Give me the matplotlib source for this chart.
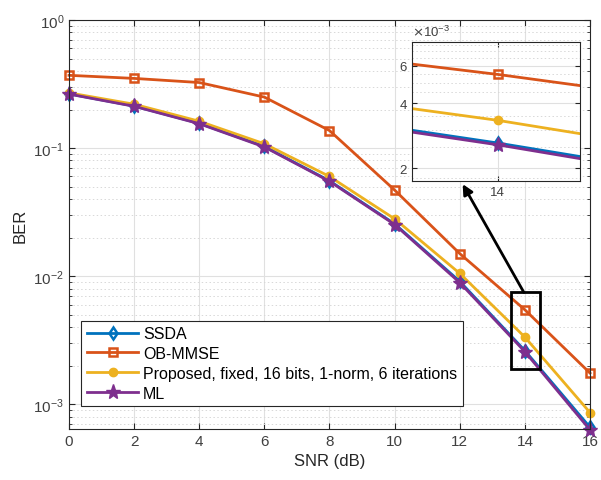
import numpy as np
import matplotlib
matplotlib.use("Agg")
import matplotlib.pyplot as plt
from matplotlib.ticker import LogLocator, NullFormatter, FixedLocator, FixedFormatter

plt.rcParams["font.family"] = ["Liberation Sans", "DejaVu Sans"]

# data
snr = [0, 2, 4, 6, 8, 10, 12, 14, 16]
ssda = [0.265, 0.213, 0.156, 0.103, 0.0555, 0.0256, 0.0091, 0.00262, 0.00066]
ob_mmse = [0.37, 0.35, 0.325, 0.25, 0.137, 0.047, 0.015, 0.00546, 0.00175]
proposed = [0.27, 0.22, 0.162, 0.108, 0.060, 0.028, 0.0105, 0.00334, 0.00086]
ml = [0.264, 0.212, 0.155, 0.102, 0.055, 0.0253, 0.0089, 0.00257, 0.00063]

labels = ["SSDA", "OB-MMSE", "Proposed, fixed, 16 bits, 1-norm, 6 iterations", "ML"]
colors = ["#0072BD", "#D95319", "#EDB120", "#7E2F8E"]

txt = "#262626"


def draw_series(ax):
    ax.plot(snr, ssda, color=colors[0], lw=2, marker="d", ms=6,
            mfc="none", mew=1.8, label=labels[0], clip_on=False)
    ax.plot(snr, ob_mmse, color=colors[1], lw=2, marker="s", ms=5.5,
            mfc="none", mew=1.8, label=labels[1], clip_on=False)
    ax.plot(snr, proposed, color=colors[2], lw=2, marker="o", ms=6,
            label=labels[2], clip_on=False)
    ax.plot(snr, ml, color=colors[3], lw=2, marker="*", ms=11,
            label=labels[3], clip_on=False)


fig = plt.figure(figsize=(6.01, 4.81), dpi=100)
ax = fig.add_axes([0.1148, 0.106, 0.8669, 0.8503])

draw_series(ax)
ax.set_yscale("log")
ax.set_xlim(0, 16)
ax.set_ylim(6.4e-4, 1)
ax.set_xticks(snr)
ax.yaxis.set_major_locator(LogLocator(base=10, numticks=10))
ax.yaxis.set_minor_locator(LogLocator(base=10, subs=np.arange(2, 10), numticks=20))
ax.yaxis.set_minor_formatter(NullFormatter())
ax.grid(True, which="major", color="#e0e0e0", lw=0.8)
ax.grid(True, which="minor", axis="y", color="#d8d8d8", lw=0.7, ls=(0, (1.5, 2.5)))
ax.set_axisbelow(True)
ax.tick_params(which="both", direction="in", top=True, right=True, colors=txt,
               labelsize=11, labelcolor="#404040")
ax.tick_params(which="major", length=4)
ax.tick_params(which="minor", length=2)
for s in ax.spines.values():
    s.set_color(txt)
    s.set_linewidth(0.8)
ax.set_xlabel("SNR (dB)", fontsize=12, color=txt)
ax.set_ylabel("BER", fontsize=12, color=txt)

leg = ax.legend(loc="lower left", bbox_to_anchor=(0.024, 0.056), fontsize=11.5,
                handlelength=3.2, handletextpad=0.3, borderpad=0.35,
                labelspacing=0.3, fancybox=False, framealpha=1,
                edgecolor=txt, borderaxespad=0)
leg.get_frame().set_linewidth(0.8)

# zoom box and arrow
box_x = [13.57, 14.47]
box_y = [1.88e-3, 7.46e-3]
ax.add_patch(plt.Rectangle((box_x[0], box_y[0]), box_x[1] - box_x[0],
                           box_y[1] - box_y[0], fill=False, ec="black", lw=2,
                           zorder=5))
ax.annotate("", xy=(12.09, 0.0523), xytext=(13.97, 7.46e-3),
            arrowprops=dict(arrowstyle="-|>", color="black", lw=2,
                            mutation_scale=15, shrinkA=0, shrinkB=0),
            zorder=6)

# inset
ins = fig.add_axes([0.685, 0.6222, 0.28, 0.289])
draw_series(ins)
for ln in ins.lines:
    ln.set_clip_on(True)
ins.set_yscale("log")
ins.set_xlim(13.78, 14.21)
ins.set_ylim(1.75e-3, 7.75e-3)
ins.set_xticks([14])
ins.yaxis.set_major_locator(FixedLocator([2e-3, 4e-3, 6e-3]))
ins.yaxis.set_major_formatter(FixedFormatter(["2", "4", "6"]))
ins.yaxis.set_minor_locator(FixedLocator([1.8e-3, 2.5e-3, 3e-3, 3.5e-3, 4.5e-3, 5e-3,
                                          5.5e-3, 6.5e-3, 7e-3, 7.5e-3]))
ins.yaxis.set_minor_formatter(NullFormatter())
ins.grid(True, which="major", color="#e0e0e0", lw=0.8)
ins.grid(True, which="minor", axis="y", color="#d8d8d8", lw=0.7, ls=(0, (1.5, 2.5)))
ins.set_axisbelow(True)
ins.tick_params(which="both", direction="in", top=True, right=True, colors=txt,
                labelsize=9.5, labelcolor="#404040")
ins.tick_params(which="minor", length=0)
for s in ins.spines.values():
    s.set_color(txt)
    s.set_linewidth(0.8)
ins.text(0.0, 1.02, r"$\times\mathdefault{10^{-3}}$", transform=ins.transAxes,
         fontsize=9.5, color="#404040", ha="left", va="bottom")

fig.savefig("out.png", dpi=100)
